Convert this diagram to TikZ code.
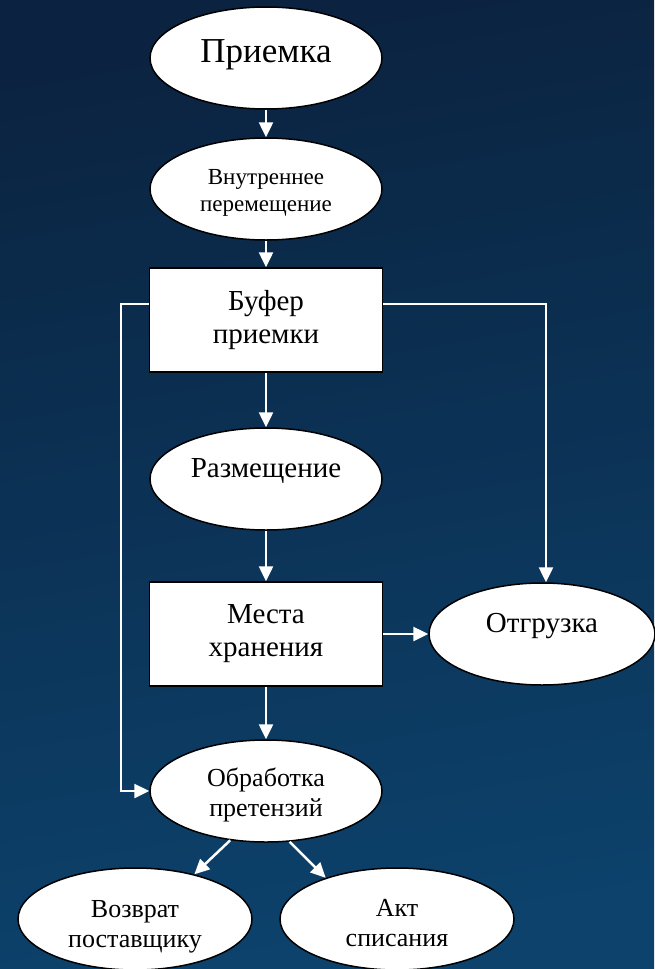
\documentclass[tikz,border=0pt]{standalone}
\usepackage{fontspec}
\setmainfont{Liberation Serif}
\usepackage{tikz}
\usetikzlibrary{shapes.geometric}
\usetikzlibrary{arrows.meta}
\definecolor{bgtop}{RGB}{11,35,64}
\definecolor{bgbottom}{RGB}{12,66,108}
\tikzset{
  oval/.style={ellipse, draw=black, line width=1.5pt, fill=white, inner sep=0pt,
    minimum width=232pt, minimum height=102pt, align=center},
  box/.style={rectangle, draw=black, line width=1.5pt, fill=white, inner sep=0pt,
    minimum width=233pt, minimum height=104pt, align=center},
  flow/.style={white, line width=2.5pt, -{Triangle[length=15pt,width=14pt]}},
  big/.style={font=\fontsize{35}{40}\selectfont},
  mid/.style={font=\fontsize{29}{33}\selectfont},
  small/.style={font=\fontsize{26}{30}\selectfont},
  tiny/.style={font=\fontsize{23}{27}\selectfont},
}
\begin{document}
\begin{tikzpicture}[x=1pt, y=-1pt]
\useasboundingbox (0,0) rectangle (654,969);
\shade[top color=bgtop, bottom color=bgbottom, shading angle=10] (0,0) rectangle (654,969);

\node[oval, big, text depth=14pt] (priem) at (266,58) {Приемка};
\node[oval, tiny, text height=50pt] (vnutr) at (266,189) {Внутреннее\\перемещение};
\node[box, mid] (bufer) at (266,320) {Буфер\\приемки};
\node[oval, mid, text depth=22pt] (razm) at (266,479) {Размещение};
\node[box, mid] (mesta) at (266,634) {Места\\хранения};
\node[oval, mid, minimum width=226pt, text depth=22pt] (otgr) at (542,634) {Отгрузка};
\node[oval, small, text height=56pt] (obrab) at (266,791) {Обработка\\претензий};
\node[oval, small, minimum width=234pt, text height=62pt] (vozvr) at (135,919) {Возврат\\поставщику};
\node[oval, small, minimum width=234pt, text height=56pt] (akt) at (397,919) {Акт\\списания};

\coordinate (bufR) at ([yshift=16pt]bufer.east);
\coordinate (bufL) at ([yshift=16pt]bufer.west);
\coordinate (otgrTop) at ([xshift=4pt]otgr.north);

\draw[flow] (priem) -- (vnutr);
\draw[flow] (vnutr) -- (bufer);
\draw[flow] (bufer) -- (razm);
\draw[flow] (razm) -- (mesta);
\draw[flow] (mesta) -- (obrab);
\draw[flow] (mesta.east) -- (otgr.west);
\draw[flow] (bufR) -| (otgrTop);
\draw[flow] (bufL) -- ++(-28,0) |- (obrab.west);
\draw[flow] (obrab.234) -- (vozvr.37);
\draw[flow] (obrab.295) -- (akt.150);
\end{tikzpicture}
\end{document}
